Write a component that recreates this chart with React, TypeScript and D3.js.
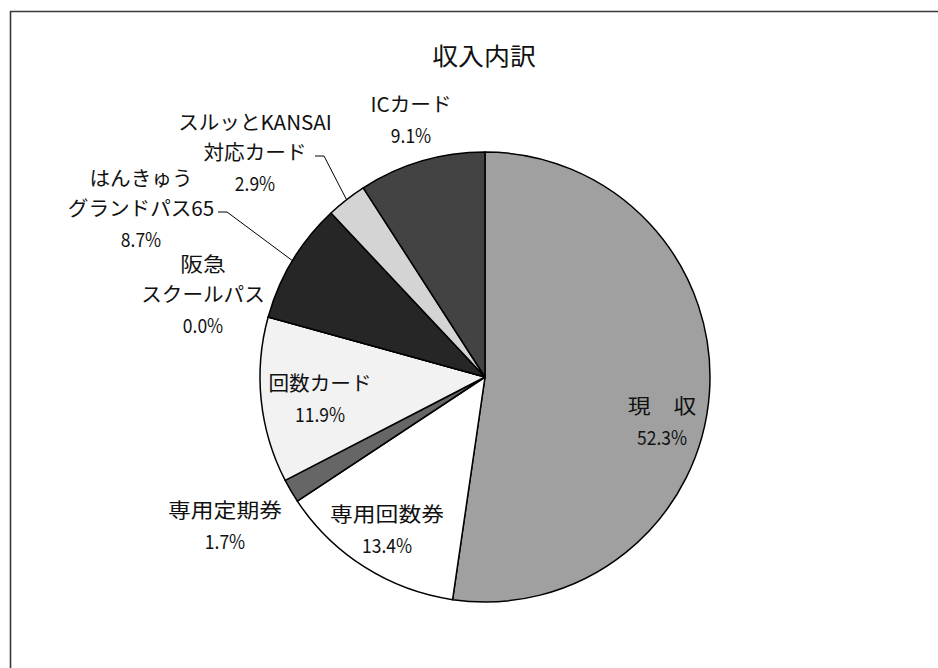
import React from "react";
import * as d3 from "d3";

// 収入内訳 (shares in %)
const categories = [
  "現収",
  "専用回数券",
  "専用定期券",
  "回数カード",
  "阪急スクールパス",
  "はんきゅうグランドパス65",
  "スルッとKANSAI対応カード",
  "ICカード",
];
const shares = [52.3, 13.4, 1.7, 11.9, 0.0, 8.7, 2.9, 9.1];
const labelLines = [
  ["現　収"],
  ["専用回数券"],
  ["専用定期券"],
  ["回数カード"],
  ["阪急", "スクールパス"],
  ["はんきゅう", "グランドパス65"],
  ["スルッとKANSAI", "対応カード"],
  ["ICカード"],
];
const fills = ["#a0a0a0", "#ffffff", "#666666", "#f2f2f2", "#b0b0b0", "#262626", "#d4d4d4", "#434343"];

// label placement (centre of first line), leader line starts
const labelAt: [number, number][] = [
  [662, 405], [387, 513], [225, 509], [320, 382],
  [203, 263], [141, 177], [255, 121], [411, 103],
];
const leaders: { [i: number]: [number, number] } = { 5: [218, 212], 6: [315, 156] };

const W = 938, H = 668;
const cx = 485, cy = 377, R = 225;
const lineH = 30.5;
const font = "'Noto Sans CJK JP', 'Noto Sans', sans-serif";

// kanji-only lines are drawn wider, kana/latin lines stay near natural width
const isKanji = (t: string) => /^[\u4e00-\u9fff\u3000]+$/.test(t);

export default function App() {
  const pie = d3.pie<number>().sort(null).value(d => d).startAngle(0).endAngle(2 * Math.PI);
  const arcs = pie(shares);
  const arc = d3.arc<d3.PieArcDatum<number>>().innerRadius(0).outerRadius(R);

  return (
    <svg width={W} height={H} style={{ position: "absolute", left: 0, top: 0, background: "#fff" }}>
      <path d={`M10.5,${H} V11.5 H${W}`} fill="none" stroke="#3a3a3a" strokeWidth={1.6} />
      <text transform={`translate(${cx - 1},54) scale(1.08,1)`} textAnchor="middle" dominantBaseline="central"
        fontFamily={font} fontSize={24} fill="#111">収入内訳</text>

      <g transform={`translate(${cx},${cy})`}>
        {arcs.map((a, i) => (
          <path key={categories[i]} d={arc(a) || ""} fill={fills[i]} stroke="#000" strokeWidth={1.5}
            strokeLinejoin="round" />
        ))}
      </g>

      {arcs.map((a, i) => {
        const s = leaders[i];
        if (!s) return null;
        const mid = (a.startAngle + a.endAngle) / 2;
        const [px, py] = d3.pointRadial(mid, R);
        return (
          <polyline key={"l" + i} fill="none" stroke="#000" strokeWidth={1}
            points={`${s[0]},${s[1]} ${s[0] + 9},${s[1]} ${cx + px},${cy + py}`} />
        );
      })}

      {arcs.map((a, i) => {
        const [x, y] = labelAt[i];
        const lines = labelLines[i];
        return (
          <g key={"t" + i} fontFamily={font} fill="#111">
            {lines.map((t, j) => (
              <text key={j} transform={`translate(${x},${y + j * lineH}) scale(${isKanji(t) ? 1.14 : 1.03},1)`}
                textAnchor="middle" dominantBaseline="central" fontSize={20}>{t}</text>
            ))}
            <text transform={`translate(${x},${y + lines.length * lineH}) scale(0.92,1.04)`} textAnchor="middle"
              dominantBaseline="central" fontSize={19}>{d3.format(".1f")(a.data)}%</text>
          </g>
        );
      })}
    </svg>
  );
}
